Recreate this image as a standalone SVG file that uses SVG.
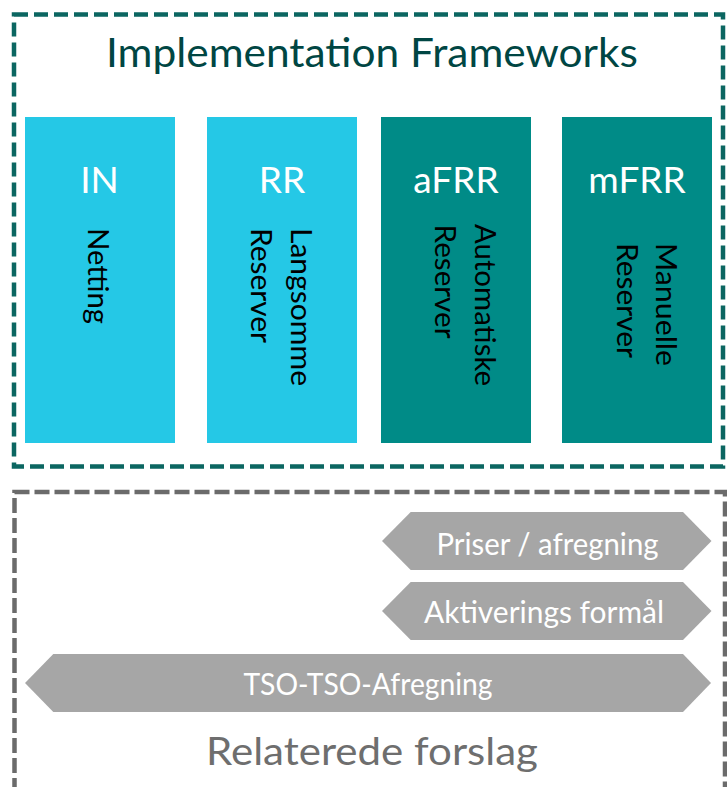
<svg xmlns="http://www.w3.org/2000/svg" width="727" height="787" viewBox="0 0 727 787">
<style>
text{font-family:Lato,"Noto Sans","Liberation Sans",sans-serif}
.frame-top{fill:none;stroke:#0b6661;stroke-width:4.5;stroke-dasharray:14 6}
.frame-bot{fill:none;stroke:#6b6b6b;stroke-width:4.5;stroke-dasharray:15 5}
.cyan{fill:#25c8e6}
.teal{fill:#008b87}
.hdr{fill:#fff;font-size:37px;text-anchor:middle}
.vt{fill:#000;font-size:29px}
.hex{fill:#a6a6a6}
.hl{fill:#fff;font-size:30px;text-anchor:middle}
</style>
<g id="implementation-frameworks">
<rect class="frame-top" x="14" y="14.5" width="709" height="452"/>
<text x="372" y="67" font-size="40" fill="#004643" text-anchor="middle" textLength="532" lengthAdjust="spacingAndGlyphs">Implementation Frameworks</text>
</g>
<g id="node-IN">
<rect class="cyan" x="25" y="117" width="150" height="326"/>
<text class="hdr" x="99.5" y="193">IN</text>
<text class="vt" transform="translate(88,228) rotate(90)" textLength="96" lengthAdjust="spacingAndGlyphs">Netting</text>
</g>
<g id="node-RR">
<rect class="cyan" x="207" y="117" width="150" height="326"/>
<text class="hdr" x="282" y="193">RR</text>
<text class="vt" transform="translate(291,228) rotate(90)" textLength="158" lengthAdjust="spacingAndGlyphs">Langsomme</text>
<text class="vt" transform="translate(251,228) rotate(90)" textLength="115" lengthAdjust="spacingAndGlyphs">Reserver</text>
</g>
<g id="node-aFRR">
<rect class="teal" x="381" y="117" width="150" height="326"/>
<text class="hdr" x="456" y="193">aFRR</text>
<text class="vt" transform="translate(475,224) rotate(90)" textLength="162" lengthAdjust="spacingAndGlyphs">Automatiske</text>
<text class="vt" transform="translate(434.5,224.5) rotate(90)" textLength="114" lengthAdjust="spacingAndGlyphs">Reserver</text>
</g>
<g id="node-mFRR">
<rect class="teal" x="562" y="117" width="150" height="326"/>
<text class="hdr" x="637" y="193">mFRR</text>
<text class="vt" transform="translate(656,243) rotate(90)" textLength="123" lengthAdjust="spacingAndGlyphs">Manuelle</text>
<text class="vt" transform="translate(617,243) rotate(90)" textLength="115" lengthAdjust="spacingAndGlyphs">Reserver</text>
</g>
<g id="relaterede-forslag">
<rect class="frame-bot" x="14.5" y="492" width="710.5" height="320"/>
<text x="372" y="765" font-size="39.5" fill="#6e6e6e" text-anchor="middle" textLength="332" lengthAdjust="spacingAndGlyphs">Relaterede forslag</text>
</g>
<g id="node-priser">
<polygon class="hex" points="382,541 410.7,512 683,512 711.5,541 683,570 410.7,570"/>
<text class="hl" x="547.5" y="554.5" textLength="222" lengthAdjust="spacingAndGlyphs">Priser / afregning</text>
</g>
<g id="node-aktiverings">
<polygon class="hex" points="382,611 410.7,582 683,582 711.5,611 683,640 410.7,640"/>
<text class="hl" x="544" y="623" textLength="240" lengthAdjust="spacingAndGlyphs">Aktiverings formål</text>
</g>
<g id="node-tso">
<polygon class="hex" points="25,683 53.3,654 683,654 711,683 683,712 53.3,712"/>
<text class="hl" x="368" y="694.5" textLength="249" lengthAdjust="spacingAndGlyphs">TSO-TSO-Afregning</text>
</g>
</svg>
